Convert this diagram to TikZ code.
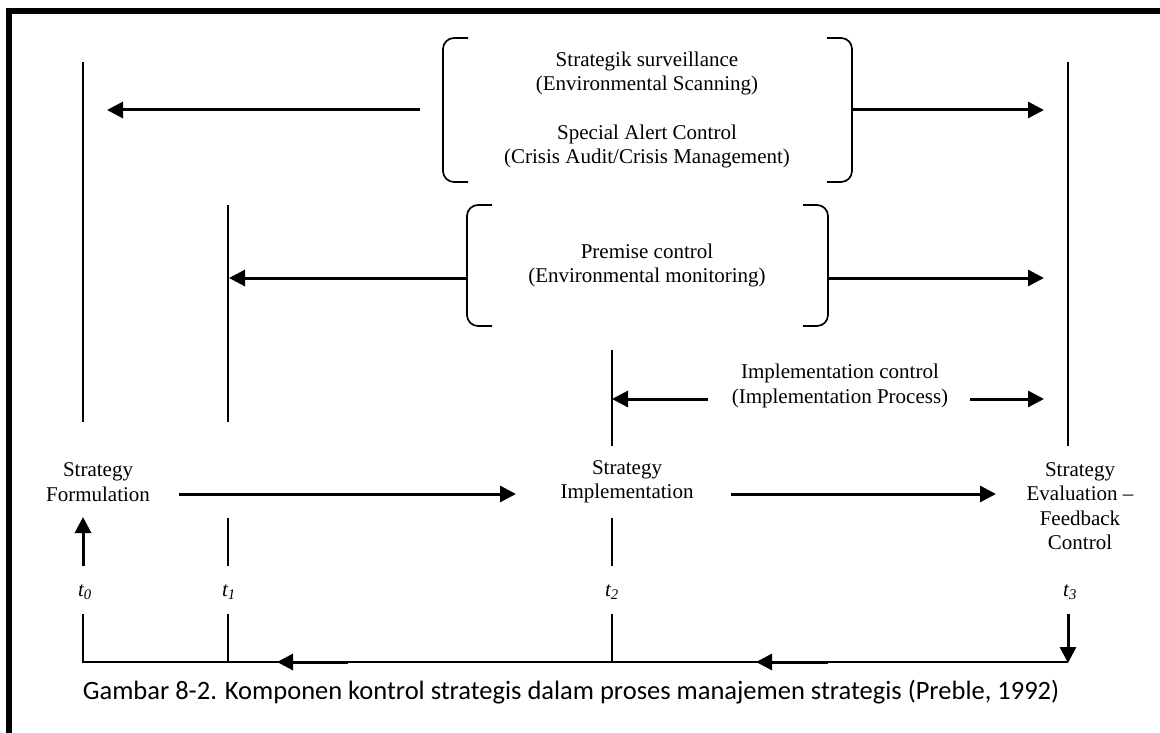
\documentclass[tikz,border=0pt]{standalone}
\usepackage{fontspec}
\setmainfont{Liberation Serif}
\newfontfamily\capfont{Carlito}
\usetikzlibrary{arrows.meta}
\begin{document}
\begin{tikzpicture}[x=1pt,y=-1pt,
  lbl/.style={inner sep=0pt,align=center,font=\fontsize{21}{24.3}\selectfont},
  tlbl/.style={inner sep=0pt,font=\fontsize{21}{24}\selectfont\itshape},
  thin/.style={line width=1.7pt},
  arr/.style={line width=3pt,-{Triangle[length=16pt,width=16pt]}},
  brk/.style={line width=1.7pt,rounded corners=11pt}]
\useasboundingbox (0,0) rectangle (1160,733);
% frame
\draw[line width=6pt] (9,740) -- (9,11) -- (1170,11);

% stage labels
\node[lbl] (form) at (98,482) {Strategy\\Formulation};
\node[lbl] (impl) at (627,482) {Strategy\\Implementation};
\node[lbl] (eval) at (1080,506) {Strategy\\Evaluation --\\Feedback\\Control};

% time labels
\node[tlbl] (t0) at (85,592) {t\textsubscript{0}};
\node[tlbl] (t1) at (229,592) {t\textsubscript{1}};
\node[tlbl] (t2) at (612,592) {t\textsubscript{2}};
\node[tlbl] (t3) at (1070,592) {t\textsubscript{3}};

% control labels
\node[lbl] (surv) at (647,73.5) {Strategik surveillance\\(Environmental Scanning)};
\node[lbl] (alert) at (647,146.5) {Special Alert Control\\(Crisis Audit/Crisis Management)};
\node[lbl] (prem) at (647,265.5) {Premise control\\(Environmental monitoring)};
\node[lbl] (ictl) at (840,386) {Implementation control\\(Implementation Process)};

% caption
\node[inner sep=0pt,font=\capfont\fontsize{26.5}{30}\selectfont] (cap) at (571,692)
  {Gambar 8-2. Komponen kontrol strategis dalam proses manajemen strategis (Preble, 1992)};

% time lines
\draw[thin] (83,62) -- (83,422);
\draw[thin] (228,205) -- (228,422);
\draw[thin] (228,518) -- (228,566);
\draw[thin] (228,614) -- (228,662);
\draw[thin] (612,350) -- (612,446);
\draw[thin] (612,518) -- (612,566);
\draw[thin] (612,614) -- (612,662);
\draw[thin] (1068,62) -- (1068,446);

% feedback loop
\coordinate (b0) at (83,662);
\coordinate (b3) at (1068,662);
\draw[thin] (83,614) -- (b0) -- (b3);
\draw[arr] (83,566) -- (83,517);
\draw[arr] (1068,614) -- (1068,663);
\draw[arr] (348,662) -- (277,662);
\draw[arr] (828,662) -- (756,662);

% main flow
\draw[arr] (179,494) -- (516,494);
\draw[arr] (731,494) -- (996,494);

% brackets
\draw[brk] (468,38) -- (443,38) -- (443,182) -- (468,182);
\draw[brk] (827,38) -- (852,38) -- (852,182) -- (827,182);
\draw[brk] (492,205) -- (467,205) -- (467,326) -- (492,326);
\draw[brk] (803,205) -- (828,205) -- (828,326) -- (803,326);

% control arrows
\draw[arr] (420,110) -- (107,110);
\draw[arr] (852,110) -- (1044,110);
\draw[arr] (467,278) -- (229,278);
\draw[arr] (828,278) -- (1044,278);
\draw[arr] (708,399) -- (612,399);
\draw[arr] (970,399) -- (1044,399);
\end{tikzpicture}
\end{document}
